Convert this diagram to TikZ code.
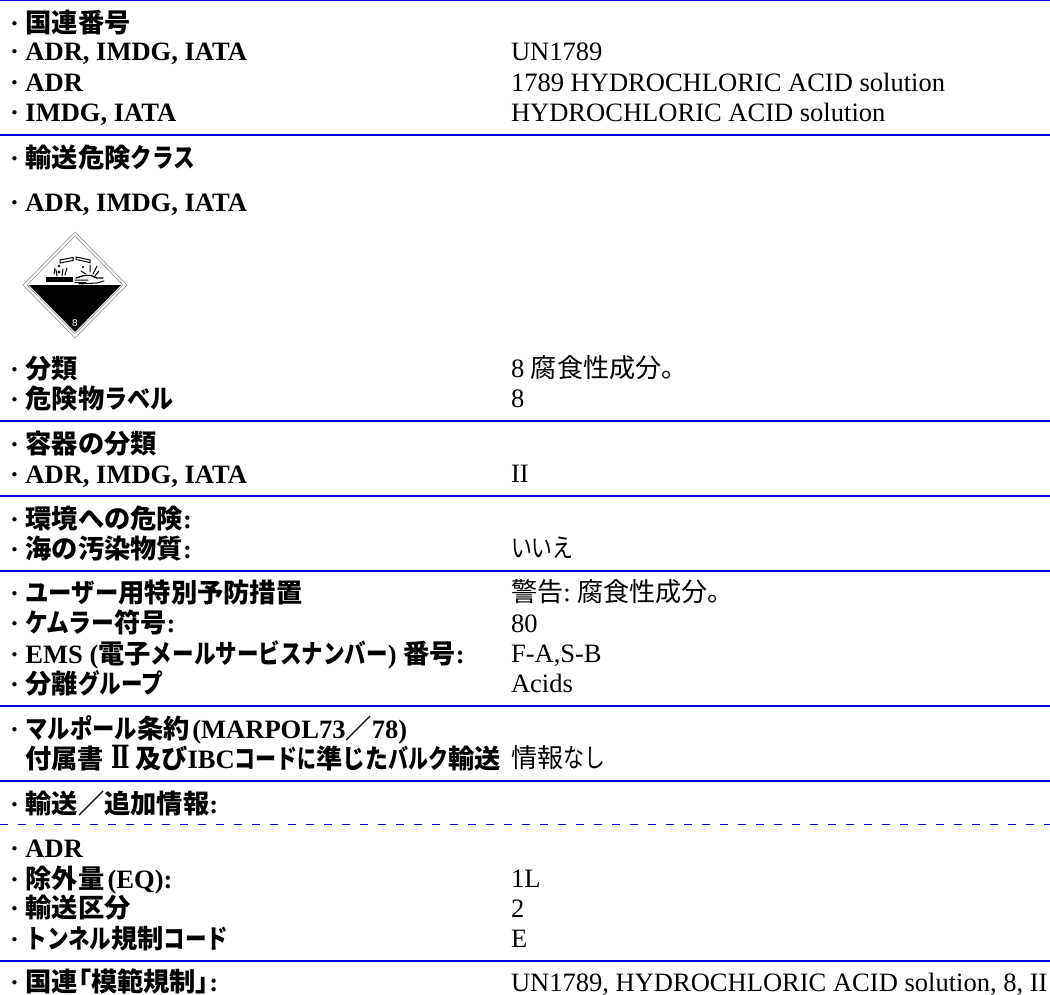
\documentclass[tikz,border=0pt]{standalone}
\usepackage{fontspec}
\setmainfont{Liberation Serif}
\newfontfamily\cjkb{Noto Sans CJK JP Bold}
\newfontfamily\cjkbp[RawFeature=+palt]{Noto Sans CJK JP Bold}
\newfontfamily\cjkr{Noto Sans CJK JP}
\newfontfamily\sanslab{Liberation Sans}
\newfontfamily\romanf{DejaVu Serif Bold}
\newcommand{\J}[1]{{\cjkb\fontsize{19.7pt}{22pt}\selectfont #1}}
\newcommand{\JP}[1]{{\cjkbp\fontsize{19.7pt}{22pt}\selectfont #1}}
\newcommand{\K}[2][0.82]{\scalebox{#1}[1]{\J{#2}}}
\newcommand{\R}[1]{{\cjkr\fontsize{19.6pt}{22pt}\selectfont #1}}
\newcommand{\HR}[1]{\scalebox{0.8}[1]{\R{#1}}}
\definecolor{ruleblue}{RGB}{0,0,225}
\tikzset{
 rulel/.style={draw=ruleblue,line width=1.2pt},
 lab/.style={anchor=base west,inner sep=0pt,outer sep=0pt,font=\fontsize{19.9pt}{22pt}\selectfont\bfseries},
 val/.style={anchor=base west,inner sep=0pt,outer sep=0pt,font=\fontsize{19.9pt}{22pt}\selectfont},
 pict/.style={line width=0.75pt,line cap=round},
}
\begin{document}
\begin{tikzpicture}[x=0.75pt,y=-0.75pt]
\useasboundingbox (0,0) rectangle (1050,995);
\foreach \n/\y in {a/0.5,b/135,c/421,d/496,e/571,f/706,g/781,h/961}{
  \coordinate (\n l) at (0,\y); \coordinate (\n r) at (1050,\y);
  \draw[rulel] (\n l) -- (\n r);
}
\coordinate (dl) at (0,824); \coordinate (dr) at (1050,824);
\draw[draw=ruleblue,line width=0.7pt,dash pattern=on 6.2pt off 7.3pt] (dl) -- (dr);
% left
\node[lab] (l1) at (10,33) {· \J{国連番号}};
\node[lab] (l2) at (10,61) {· ADR, IMDG, IATA};
\node[lab] (l3) at (10,92) {· ADR};
\node[lab] (l4) at (10,122) {· IMDG, IATA};
\node[lab] (l5) at (10,168) {· \J{輸送危険}\K{クラス}};
\node[lab] (l6) at (10,212) {· ADR, IMDG, IATA};
\node[lab] (l7) at (10,378) {· \J{分類}};
\node[lab] (l8) at (10,408) {· \J{危険物}\K[0.88]{ラベル}};
\node[lab] (l9) at (10,453) {· \J{容器の分類}};
\node[lab] (l10) at (10,483) {· ADR, IMDG, IATA};
\node[lab] (l11) at (10,528) {· \J{環境への危険}:};
\node[lab] (l12) at (10,558) {· \J{海の汚染物質}:};
\node[lab] (l13) at (10,602) {· \K[0.89]{ユーザー}\J{用特別予防措置}};
\node[lab] (l14) at (10,632) {· \K[0.87]{ケムラー}\J{符号}:};
\node[lab] (l15) at (10,663) {· EMS (\J{電子}\K{メールサービスナンバー}) \J{番号}:};
\node[lab] (l16) at (10,693) {· \J{分離}\K{グループ}};
\node[lab] (l17) at (10,738) {· \K[0.85]{マルポール}\J{条約}\hspace{2pt}(MARPOL73\J{／}78)};
\node[lab] (l18) at (25,768) {\J{付属書}\hspace{5.5pt}\scalebox{1.1}[1.6]{\romanf\fontsize{15pt}{18pt}\selectfont Ⅱ}\hspace{4pt}\J{及び}IBC\K[0.8]{コード}\K[0.72]{に}\J{準}\K[0.87]{じた}\K[0.76]{バルク}\J{輸送}};
\node[lab] (l19) at (10,813) {· \J{輸送／追加情報}:};
\node[lab] (l20) at (10,857) {· ADR};
\node[lab] (l21) at (10,888) {· \J{除外量}\hspace{2.5pt}(EQ):};
\node[lab] (l22) at (10,917) {· \J{輸送区分}};
\node[lab] (l23) at (10,948) {· \K{トンネル}\J{規制}\K{コード}};
\node[lab] (l24) at (10,991) {· \JP{国連「模範規制」}:};
% right
\node[val] (v2) at (511,61) {UN1789};
\node[val] (v3) at (511,92) {1789 HYDROCHLORIC ACID solution};
\node[val] (v4) at (511,122) {HYDROCHLORIC ACID solution};
\node[val] (v7) at (511,377) {8 \R{腐食性成分。}};
\node[val] (v8) at (511,407) {8};
\node[val] (v10) at (511,482) {II};
\node[val] (v12) at (511,557) {\HR{いいえ}};
\node[val] (v13) at (511,601) {\R{警告}:\hspace{5pt}\R{腐食性成分。}};
\node[val] (v14) at (511,632) {80};
\node[val] (v15) at (511,662) {F-A,S-B};
\node[val] (v16) at (511,692) {Acids};
\node[val] (v18) at (511,767) {\R{情報}\HR{なし}};
\node[val] (v21) at (511,887) {1L};
\node[val] (v22) at (511,917) {2};
\node[val] (v23) at (511,947) {E};
\node[val] (v24) at (511,991) {UN1789, HYDROCHLORIC ACID solution, 8, II};
% hazard diamond
\draw[draw=black!40,line width=0.5pt,fill=white] (75,232) -- (127,285) -- (75,338) -- (23,285) -- cycle;
\draw[draw=black!40,line width=0.5pt] (75,236) -- (123,285) -- (75,334) -- (27,285) -- cycle;
\fill[black] (29,285) -- (121,285) -- (75,332) -- cycle;
\node[anchor=center,inner sep=0pt,text=white,font=\sanslab\fontsize{7.5pt}{8pt}\selectfont] (n8) at (75,323) {8};
% test tubes
\draw[pict] (60,263) -- (73,260.5) -- (73,257.5) -- (60,260) -- cycle;
\draw[pict] (76,257) -- (90,260) -- (90,262.5) -- (76,259.5) -- cycle;
\fill (46,277) rectangle (73,282);
\fill (59,266) circle (1.3) (59,272) circle (1.6) (83,267) circle (1.2);
\draw[pict] (54,274) -- (55,268) (57,276) -- (56,270) (62,276) -- (63,269) (65,275) -- (67,268);
\draw[pict,line width=1pt] (76,278) -- (84,275.5) -- (91,275.5) -- (97,278) -- (103,278);
\draw[pict] (75,280) -- (88,280) (75,282.5) -- (86,282.5) (79,284) -- (97,283) -- (104,281);
\draw[pict] (81,271) -- (86,274) (90,272) -- (90,265) (93,274) -- (97,266) (95,276) -- (99,271);
\end{tikzpicture}
\end{document}
